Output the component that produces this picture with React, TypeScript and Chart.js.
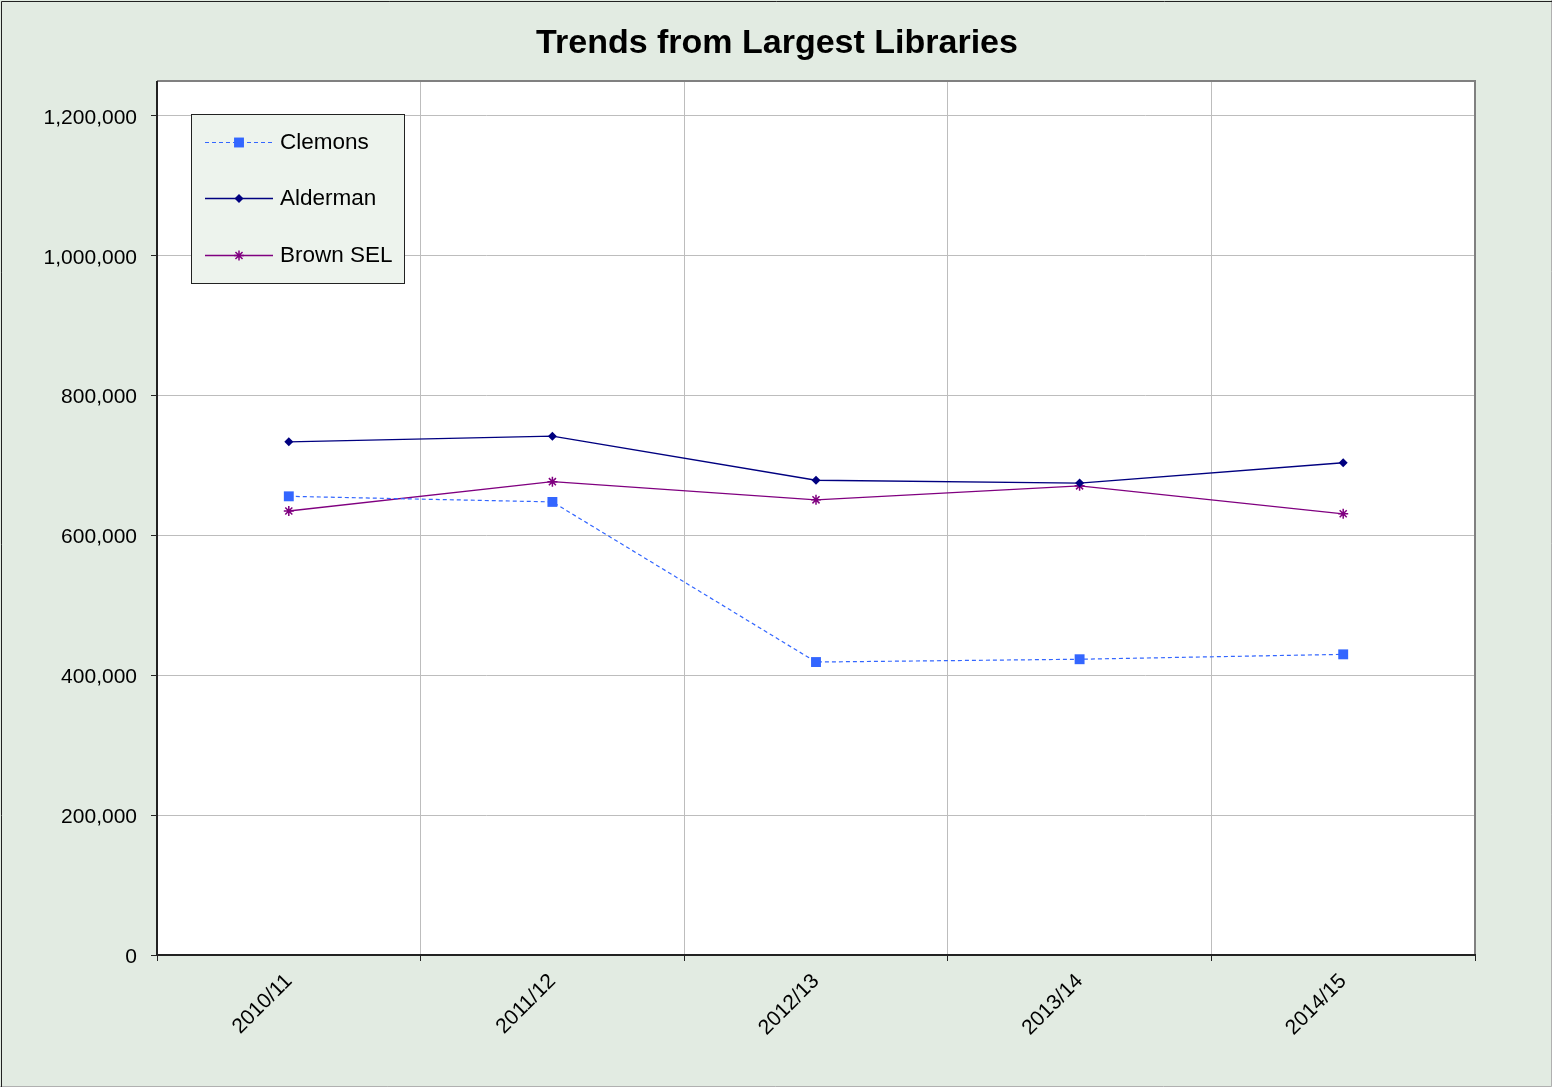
import React, { useEffect, useRef } from "react";
import { Chart, registerables } from "chart.js";

Chart.register(...registerables);

const chartTitle = "Trends from Largest Libraries";
const categories = ["2010/11", "2011/12", "2012/13", "2013/14", "2014/15"];
const clemonsValues = [656000, 648000, 419000, 423000, 430000];
const aldermanValues = [734000, 742000, 679000, 675000, 704000];
const brownSelValues = [635000, 677000, 651000, 671000, 631000];
const seriesNames = ["Clemons", "Alderman", "Brown SEL"];
const yMin = 0;
const yMax = 1250000;
const yStep = 200000;

const W = 1552;
const H = 1087;
const FONT = "Arial, 'Liberation Sans', Helvetica, sans-serif";

function drawMarker(ctx: any, style: string, r: number, x: number, y: number, fill: string, stroke: string) {
  ctx.fillStyle = fill;
  ctx.strokeStyle = stroke;
  ctx.lineWidth = 1.5;
  ctx.beginPath();
  if (style === "rect") {
    const s = Math.SQRT1_2 * r;
    ctx.rect(x - s, y - s, 2 * s, 2 * s);
    ctx.fill();
  } else if (style === "rectRot") {
    ctx.moveTo(x, y - r);
    ctx.lineTo(x + r, y);
    ctx.lineTo(x, y + r);
    ctx.lineTo(x - r, y);
    ctx.closePath();
    ctx.fill();
  } else {
    for (let k = 0; k < 4; k++) {
      const ang = (Math.PI / 4) * k;
      ctx.moveTo(x + Math.cos(ang) * r, y + Math.sin(ang) * r);
      ctx.lineTo(x - Math.cos(ang) * r, y - Math.sin(ang) * r);
    }
    ctx.stroke();
  }
}

const decorPlugin = {
  id: "decor",
  beforeDraw(chart: any) {
    const ctx = chart.ctx;
    ctx.save();
    ctx.fillStyle = "#E2EBE2";
    ctx.fillRect(0, 0, W, H);
    const a = chart.chartArea;
    ctx.fillStyle = "#FFFFFF";
    ctx.fillRect(a.left, a.top, a.right - a.left, a.bottom - a.top);
    ctx.strokeStyle = "#B0B0B0";
    ctx.lineWidth = 1;
    ctx.beginPath();
    ctx.moveTo(W - 0.5, 0);
    ctx.lineTo(W - 0.5, H - 0.5);
    ctx.lineTo(0, H - 0.5);
    ctx.stroke();
    ctx.strokeStyle = "#222222";
    ctx.beginPath();
    ctx.moveTo(1.5, H);
    ctx.lineTo(1.5, 1.5);
    ctx.lineTo(W, 1.5);
    ctx.stroke();
    ctx.fillStyle = "#000000";
    ctx.font = `bold 34px ${FONT}`;
    ctx.textAlign = "center";
    ctx.textBaseline = "middle";
    ctx.fillText(chartTitle, 777, 44);
    ctx.restore();
  },
  afterDatasetsDraw(chart: any) {
    const ctx = chart.ctx;
    const a = chart.chartArea;
    ctx.save();
    ctx.strokeStyle = "#808080";
    ctx.lineWidth = 2;
    ctx.beginPath();
    ctx.moveTo(a.left, a.top);
    ctx.lineTo(a.right, a.top);
    ctx.lineTo(a.right, a.bottom);
    ctx.stroke();
    ctx.strokeStyle = "#222222";
    ctx.beginPath();
    ctx.moveTo(a.left, a.top);
    ctx.lineTo(a.left, a.bottom);
    ctx.lineTo(a.right + 1, a.bottom);
    ctx.stroke();

    const lx = 191, ly = 114, lw = 213, lh = 169;
    ctx.fillStyle = "#EDF3ED";
    ctx.fillRect(lx, ly, lw, lh);
    ctx.strokeStyle = "#222222";
    ctx.lineWidth = 1;
    ctx.strokeRect(lx + 0.5, ly + 0.5, lw, lh);
    const rows = [142, 198, 255];
    chart.data.datasets.forEach((ds: any, i: number) => {
      const y = rows[i];
      ctx.save();
      ctx.strokeStyle = ds.borderColor;
      ctx.lineWidth = ds.borderWidth;
      ctx.setLineDash(ds.borderDash || []);
      ctx.beginPath();
      ctx.moveTo(205, y + 0.5);
      ctx.lineTo(273, y + 0.5);
      ctx.stroke();
      ctx.restore();
      ctx.save();
      ctx.setLineDash([]);
      drawMarker(ctx, ds.pointStyle, ds.pointRadius, 239, y + 0.5, ds.pointBackgroundColor, ds.pointBorderColor);
      ctx.restore();
      ctx.fillStyle = "#000000";
      ctx.font = `22.5px ${FONT}`;
      ctx.textAlign = "left";
      ctx.textBaseline = "middle";
      ctx.fillText(ds.label, 280, y + 1);
    });
    ctx.restore();
  },
};

export default function App() {
  const ref = useRef<HTMLCanvasElement | null>(null);
  useEffect(() => {
    if (!ref.current) return;
    const chart = new Chart(ref.current, {
      type: "line",
      data: {
        labels: categories,
        datasets: [
          {
            label: seriesNames[0],
            data: clemonsValues,
            borderColor: "#3366FF",
            backgroundColor: "#3366FF",
            pointBackgroundColor: "#3366FF",
            pointBorderColor: "#3366FF",
            borderWidth: 1.2,
            borderDash: [4, 3],
            pointStyle: "rect",
            pointRadius: 7,
            pointBorderWidth: 0,
            tension: 0,
          },
          {
            label: seriesNames[1],
            data: aldermanValues,
            borderColor: "#000080",
            backgroundColor: "#000080",
            pointBackgroundColor: "#000080",
            pointBorderColor: "#000080",
            borderWidth: 1.3,
            pointStyle: "rectRot",
            pointRadius: 4.5,
            pointBorderWidth: 0,
            tension: 0,
          },
          {
            label: seriesNames[2],
            data: brownSelValues,
            borderColor: "#800080",
            backgroundColor: "#800080",
            pointBackgroundColor: "#800080",
            pointBorderColor: "#800080",
            borderWidth: 1.3,
            pointStyle: "star",
            pointRadius: 5,
            pointBorderWidth: 1.5,
            tension: 0,
          },
        ] as any,
      },
      options: {
        animation: false,
        responsive: false,
        maintainAspectRatio: false,
        layout: { padding: { top: 81, right: 77, bottom: 0, left: 0 } },
        plugins: {
          legend: { display: false },
          title: { display: false },
          tooltip: { enabled: false },
        },
        scales: {
          x: {
            type: "category",
            offset: true,
            grid: {
              offset: true,
              color: "#BDBDBD",
              lineWidth: 1,
              drawTicks: true,
              tickLength: 6,
              tickColor: "#222222",
            },
            border: { display: false },
            ticks: {
              color: "#000000",
              font: { family: FONT, size: 21 },
              maxRotation: 45,
              minRotation: 45,
              padding: 8,
              autoSkip: false,
            },
            afterFit(scale: any) {
              scale.height = 132;
            },
          },
          y: {
            type: "linear",
            min: yMin,
            max: yMax,
            grid: {
              color: "#BDBDBD",
              lineWidth: 1,
              drawTicks: true,
              tickLength: 6,
              tickColor: "#222222",
            },
            border: { display: false },
            ticks: {
              stepSize: yStep,
              color: "#000000",
              font: { family: FONT, size: 21 },
              padding: 14,
              labelOffset: 2,
              callback: (v: any) => Math.round(Number(v)).toLocaleString("en-US"),
            },
            afterBuildTicks(scale: any) {
              const out: any[] = [];
              for (let v = yMin; v <= yMax; v += yStep) out.push({ value: v });
              scale.ticks = out;
            },
            afterFit(scale: any) {
              scale.width = 157;
            },
          },
        },
      } as any,
      plugins: [decorPlugin],
    });
    return () => chart.destroy();
  }, []);
  return (
    <div style={{ position: "fixed", left: 0, top: 0, width: W, height: H }}>
      <canvas ref={ref} width={W} height={H} style={{ width: W, height: H, display: "block" }} />
    </div>
  );
}
